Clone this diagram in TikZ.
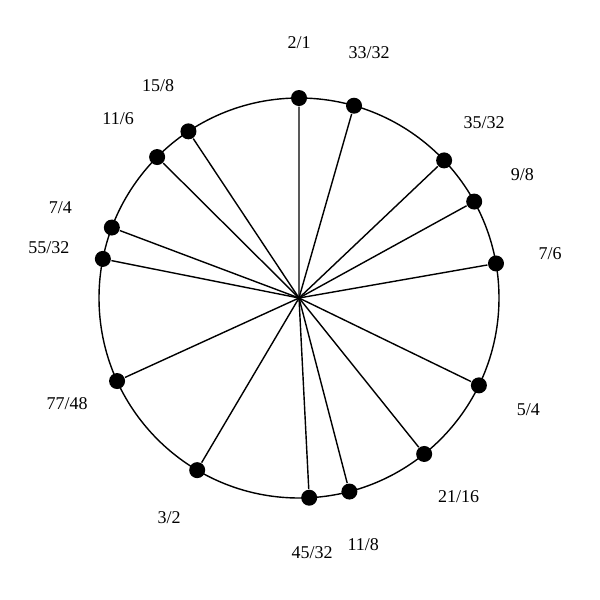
\documentclass[tikz,border=0pt]{standalone}
\usepackage{fontspec}
\setmainfont{Liberation Serif}
\begin{document}
\begin{tikzpicture}[x=0.025cm,y=-0.025cm,line width=1pt,
   dot/.style={circle,fill,inner sep=0pt,minimum size=0.4cm},
   ratio/.style={font=\fontsize{12.8}{15}\selectfont}]
   \useasboundingbox (0,0) rectangle (600,600);
   \coordinate (c) at (299,298);
   \draw (c) circle (200);
   \foreach \n/\d [count=\i] in {2/1,33/32,35/32,9/8,7/6,5/4,21/16,11/8,
                                 45/32,3/2,77/48,55/32,7/4,11/6,15/8} {
     \pgfmathsetmacro\a{360*ln(\n/\d)/ln(2)-90}
     \node[dot] (p\i) at ([shift={(\a:200)}]c) {};
     \node[ratio] (l\i) at ([shift={(\a:255)}]c) {\n/\d};
     \draw (c) -- (p\i);
   }
\end{tikzpicture}
\end{document}
